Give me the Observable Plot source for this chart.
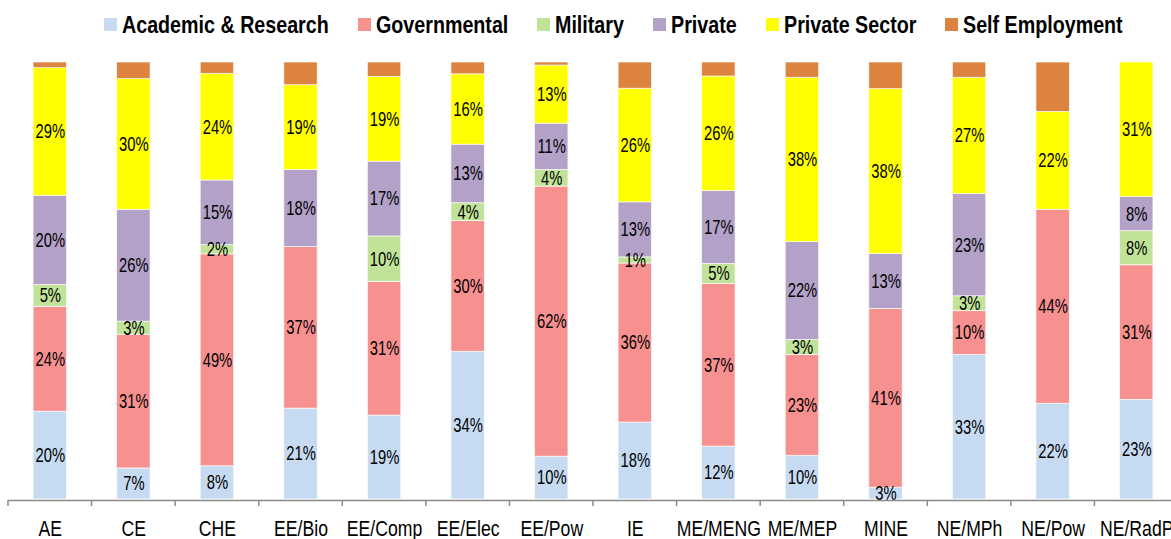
<!DOCTYPE html>
<html><head><meta charset="utf-8">
<script src="https://cdn.jsdelivr.net/npm/d3@7"></script>
<script src="https://cdn.jsdelivr.net/npm/@observablehq/plot@0.6"></script>
<style>
html,body{margin:0;padding:0;background:#fff;overflow:hidden;width:1171px;height:539px}
#legend{height:49px;display:flex;align-items:center;font-family:"Liberation Sans",Arial,sans-serif;font-weight:bold;font-size:24px;padding-left:104px;box-sizing:border-box;color:#000;white-space:nowrap}
.item{display:flex;align-items:center;margin-right:29px;flex:none}
.sw{width:13px;height:13px;margin-right:5px;flex:none}
.wrap{display:inline-block;overflow:visible}
.tx{display:inline-block;transform:scaleX(0.82);transform-origin:0 50%}
</style></head><body>
<div id="legend"></div>
<div id="chart"></div>
<script>
const categories = ["AE","CE","CHE","EE/Bio","EE/Comp","EE/Elec","EE/Pow","IE","ME/MENG","ME/MEP","MINE","NE/MPh","NE/Pow","NE/RadP"];
const series = ["Academic & Research","Governmental","Military","Private","Private Sector","Self Employment"];
const colors = ["#c6daf1","#f79190","#c1e399","#b3a1c8","#ffff00","#dc843f"];
const academic      = [20.1, 7.1, 7.6, 20.8, 19.2, 33.8,  9.8, 17.6, 12.1, 10.0,  2.7, 33.1, 21.9, 22.8];
const governmental  = [24.0, 30.6, 48.5, 37.0, 30.6, 29.9, 61.8, 36.4, 37.2, 23.1, 40.9, 10.0, 44.4, 30.8];
const military      = [ 5.0,  3.0,  2.1,  0.0, 10.4,  4.1,  3.8,  1.4,  4.6,  3.4,  0.0,  3.4,  0.0,  7.8];
const privateOrg    = [20.4, 25.6, 14.8, 17.6, 17.1, 13.4, 10.6, 12.6, 16.7, 22.4, 12.6, 23.4,  0.0,  7.8];
const privateSector = [29.2, 29.9, 24.4, 19.4, 19.4, 16.1, 13.3, 26.0, 26.2, 37.6, 37.7, 26.6, 22.4, 30.8];
const selfEmploy    = [ 1.3,  3.8,  2.6,  5.2,  3.3,  2.7,  0.7,  6.0,  3.2,  3.5,  6.1,  3.5, 11.3,  0.0];

const seriesValues = [academic, governmental, military, privateOrg, privateSector, selfEmploy];
const table = [];
categories.forEach((c, i) => series.forEach((s, j) => table.push({category: c, series: s, value: seriesValues[j][i]})));

const FONT = '"Liberation Sans",Arial,sans-serif';

// legend
const legend = document.getElementById("legend");
const wraps = [];
series.forEach((s, j) => {
  const it = document.createElement("div"); it.className = "item";
  const sw = document.createElement("span"); sw.className = "sw"; sw.style.background = colors[j];
  const wrap = document.createElement("span"); wrap.className = "wrap";
  const tx = document.createElement("span"); tx.className = "tx"; tx.textContent = s;
  wrap.appendChild(tx);
  it.appendChild(sw); it.appendChild(wrap); legend.appendChild(it);
  wraps.push([wrap, tx]);
});
wraps.forEach(([w, t]) => { w.style.width = t.getBoundingClientRect().width + "px"; });

const label = d => (d.series === "Self Employment" || d.value < 0.5) ? "" : Math.round(d.value) + "%";

const plot = Plot.plot({
  width: 1171, height: 490,
  marginTop: 13, marginBottom: 40, marginLeft: 8, marginRight: 0,
  x: {domain: categories, range: [8, 1178], paddingInner: 0.6, paddingOuter: 0.3, align: 0.5, round: false, label: null},
  y: {domain: [0, 1], axis: null},
  color: {domain: series, range: colors},
  style: {fontFamily: FONT, fontSize: "18px", color: "black", overflow: "visible", background: "white"},
  marks: [
    Plot.barY(table, Plot.stackY({x: "category", y: "value", fill: "series", z: "series", order: series, offset: "normalize", stroke: "white", strokeWidth: 0.8, strokeOpacity: 0.8})),
    Plot.text(table, Plot.stackY({x: "category", y: "value", z: "series", order: series, offset: "normalize", text: label, fill: "black", fontSize: 20, className: "barlabel"})),
    Plot.ruleY([0], {stroke: "#8a8a8a", strokeWidth: 1.5, dy: 1}),
    Plot.axisX({tickSize: 0, tickPadding: 21, fontSize: 21.5, label: null, fill: "black"})
  ]
});

// category boundary ticks, placed through the plot's own x scale
const xs = plot.scale("x"), ys = plot.scale("y");
const base = ys.apply(0) + 1;
const g = d3.select(plot).append("g").attr("stroke", "#8a8a8a").attr("stroke-width", 1.5);
categories.forEach(c => {
  const bx = xs.apply(c) - (xs.step - xs.bandwidth) / 2;
  g.append("line").attr("x1", bx).attr("x2", bx).attr("y1", base).attr("y2", base + 6);
});
document.getElementById("chart").appendChild(plot);

// condense the text horizontally (Arial Narrow look)
plot.querySelectorAll("text").forEach(el => {
  const k = el.closest(".barlabel") ? 0.74 : 0.82;
  const b = el.getBBox();
  const cx = b.x + b.width / 2;
  const t = el.getAttribute("transform") || "";
  el.setAttribute("transform", `${t} translate(${cx},0) scale(${k},1) translate(${-cx},0)`);
});
</script>
</body></html>
